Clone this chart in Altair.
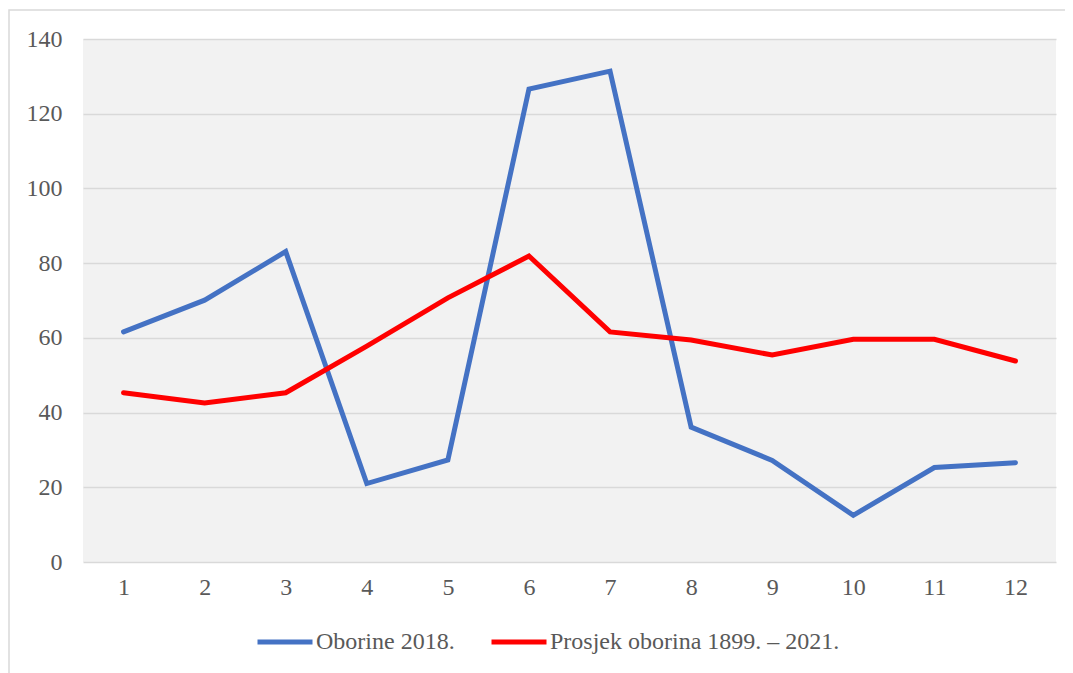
import altair as alt
import pandas as pd

months = list(range(1, 13))
oborine_2018 = [61.6, 70.1, 83.1, 21.0, 27.3, 126.6, 131.4, 36.1, 27.2, 12.5, 25.3, 26.6]
prosjek = [45.3, 42.6, 45.3, 57.8, 70.7, 81.9, 61.6, 59.4, 55.4, 59.6, 59.6, 53.8]
series_names = ["Oborine 2018.", "Prosjek oborina 1899. – 2021."]
series_colors = ["#4472C4", "#FF0000"]

rows = []
for m, v in zip(months, oborine_2018):
    rows.append({"mjesec": m, "vrijednost": v, "serija": series_names[0]})
for m, v in zip(months, prosjek):
    rows.append({"mjesec": m, "vrijednost": v, "serija": series_names[1]})
df = pd.DataFrame(rows)

FONT = "Liberation Serif"
GREY = "#595959"
FS = 24

border = alt.Chart(alt.Data(values=[{"a": 1}])).mark_rect(
    fill="transparent", stroke="#D9D9D9", strokeWidth=1.5, clip=False
).encode(
    x=alt.value(-74), x2=alt.value(1100), y=alt.value(-29), y2=alt.value(800)
)

lines = alt.Chart(df).mark_line(strokeWidth=5, strokeCap="round", strokeJoin="miter").encode(
    x=alt.X("mjesec:O",
            scale=alt.Scale(type="point", padding=0.5),
            axis=alt.Axis(title=None, labelAngle=0, domain=False, ticks=False, grid=False,
                          labelFont=FONT, labelFontSize=FS, labelColor=GREY, labelPadding=13)),
    y=alt.Y("vrijednost:Q",
            scale=alt.Scale(domain=[0, 140], nice=False),
            axis=alt.Axis(title=None, values=[0, 20, 40, 60, 80, 100, 120, 140],
                          domain=False, ticks=False, gridColor="#D9D9D9", gridWidth=1.5,
                          labelFont=FONT, labelFontSize=FS, labelColor=GREY, labelPadding=21)),
    color=alt.Color("serija:N",
                    scale=alt.Scale(domain=series_names, range=series_colors),
                    legend=alt.Legend(title=None, orient="none", direction="horizontal",
                                      legendX=172, legendY=573,
                                      symbolType="stroke", symbolSize=3025, symbolStrokeWidth=5,
                                      labelFont=FONT, labelFontSize=FS, labelColor=GREY,
                                      labelLimit=0, labelOffset=1, columnPadding=26)),
    detail="serija:N",
)

chart = alt.layer(border, lines).properties(
    width=973, height=523,
    autosize=alt.AutoSizeParams(type="none"),
    padding={"left": 75, "top": 31, "right": 9, "bottom": 120},
    background="white",
).configure_view(fill="#F2F2F2", stroke=None)

chart.save("out.html", embed_options={"renderer": "svg", "actions": False})
